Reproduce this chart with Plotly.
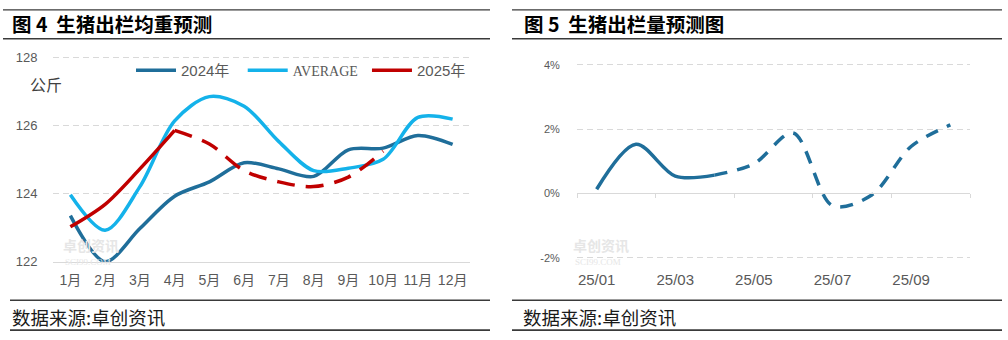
import plotly.graph_objects as go

# ---------------- data ----------------
months_left = ["1月", "2月", "3月", "4月", "5月", "6月", "7月", "8月", "9月", "10月", "11月", "12月"]
weight_2024 = [123.35, 122.0, 122.97, 123.92, 124.34, 124.9, 124.72, 124.5, 125.28, 125.33, 125.7, 125.44]
weight_avg = [123.96, 122.92, 124.2, 126.13, 126.84, 126.56, 125.52, 124.67, 124.74, 125.0, 126.23, 126.18]
weight_2025_actual = [123.02, 123.68, 124.72, 125.85]            # 1月-4月
weight_2025_forecast = [125.85, 125.45, 124.67, 124.34, 124.2, 124.48, 125.24]  # 4月-10月
left_yticks = [122, 124, 126, 128]

months_right = ["25/01", "25/02", "25/03", "25/04", "25/05", "25/06", "25/07", "25/08", "25/09", "25/10"]
volume_actual = [0.13, 1.53, 0.54, 0.57]                          # 25/01-25/04
volume_forecast = [0.57, 0.92, 1.88, -0.38, -0.05, 1.46, 2.13]    # 25/04-25/10
right_yticks = [-2, 0, 2, 4]
right_yticktext = ["-2%", "0%", "2%", "4%"]
right_xticks = ["25/01", "25/03", "25/05", "25/07", "25/09"]

# ---------------- style ----------------
W, H = 1008, 340
C_DARK = "#1F6E9A"
C_LIGHT = "#14B2EA"
C_RED = "#C00000"
C_GRID = "#D9D9D9"
C_TICK = "#595959"
SANS = "Liberation Sans, Noto Sans CJK SC, sans-serif"
CJK = "Noto Sans CJK SC, sans-serif"
NB = "\u00a0"

def px_x(p):
    return p / W

def px_y(p):
    return 1 - p / H

def y_domain(lo_tick, hi_tick, lo_px, hi_px, lo_pad, hi_pad):
    """domain so that lo_tick sits at lo_px and hi_tick at hi_px, with padded range"""
    unit = (lo_px - hi_px) / (hi_tick - lo_tick)
    bottom = lo_px + lo_pad * unit
    top = hi_px - hi_pad * unit
    return [px_y(bottom), px_y(top)], [lo_tick - lo_pad, hi_tick + hi_pad]

L_X = [px_x(53), px_x(470)]
L_Y, L_RANGE = y_domain(left_yticks[0], left_yticks[-1], 266, 54, 0.01, 0.06)
R_X = [px_x(577), px_x(970)]
R_Y, R_RANGE = y_domain(right_yticks[0], right_yticks[-1], 262, 62, 0.06, 0.06)

fig = go.Figure()

# left chart
fig.add_trace(go.Scatter(x=months_left, y=weight_2024, name="2024年" + NB * 2, mode="lines",
                         line=dict(color=C_DARK, width=3.5, shape="spline", smoothing=0.9),
                         xaxis="x", yaxis="y"))
fig.add_trace(go.Scatter(x=months_left, y=weight_avg,
                         name="<span style='font-family:Liberation Serif;font-size:14px'>AVERAGE</span>" + NB,
                         mode="lines",
                         line=dict(color=C_LIGHT, width=3.5, shape="spline", smoothing=0.9),
                         xaxis="x", yaxis="y"))
fig.add_trace(go.Scatter(x=months_left[:4], y=weight_2025_actual, name="2025年", mode="lines",
                         line=dict(color=C_RED, width=3.5, shape="spline", smoothing=0.9),
                         xaxis="x", yaxis="y"))
fig.add_trace(go.Scatter(x=months_left[3:10], y=weight_2025_forecast, name="2025年预测", mode="lines",
                         showlegend=False,
                         line=dict(color=C_RED, width=3.5, shape="spline", smoothing=0.9, dash="18px,11px"),
                         xaxis="x", yaxis="y"))

# right chart
fig.add_trace(go.Scatter(x=months_right[:4], y=volume_actual, mode="lines", showlegend=False,
                         line=dict(color=C_DARK, width=3.5, shape="spline", smoothing=0.9),
                         xaxis="x2", yaxis="y2"))
fig.add_trace(go.Scatter(x=months_right[3:], y=volume_forecast, mode="lines", showlegend=False,
                         line=dict(color=C_DARK, width=3.5, shape="spline", smoothing=0.9, dash="13px,10px"),
                         xaxis="x2", yaxis="y2"))
# helper trace for the tick axis drawn on the 0% line
fig.add_trace(go.Scatter(x=list(range(len(months_right))), y=[0] * len(months_right), mode="lines",
                         showlegend=False, hoverinfo="skip", line=dict(width=0, color="rgba(0,0,0,0)"),
                         xaxis="x3", yaxis="y2"))

zero_pos = R_Y[0] + (R_Y[1] - R_Y[0]) * (0 - R_RANGE[0]) / (R_RANGE[1] - R_RANGE[0])

fig.update_layout(
    width=W, height=H,
    margin=dict(l=0, r=0, t=0, b=0),
    paper_bgcolor="white", plot_bgcolor="white",
    font=dict(family=SANS, color=C_TICK),
    xaxis=dict(domain=L_X, anchor="y", type="category", range=[-0.5, 11.5],
               showline=True, linecolor=C_GRID, linewidth=1, showgrid=False,
               ticks="outside", ticklen=5, tickcolor="rgba(0,0,0,0)",
               tickfont=dict(size=14, color=C_TICK, family=SANS), fixedrange=True),
    yaxis=dict(domain=L_Y, anchor="x", range=L_RANGE, tickvals=left_yticks,
               showgrid=True, gridcolor=C_GRID, griddash="6px,4px", gridwidth=1,
               zeroline=False, showline=False,
               ticks="outside", ticklen=12, tickcolor="rgba(0,0,0,0)",
               tickfont=dict(size=13, color=C_TICK, family=SANS)),
    xaxis2=dict(domain=R_X, anchor="y2", type="category", range=[-0.5, 9.5],
                tickmode="array", tickvals=right_xticks, ticktext=right_xticks,
                showline=False, showgrid=False,
                ticks="outside", ticklen=6, tickcolor="rgba(0,0,0,0)",
                tickfont=dict(size=15, color=C_TICK, family=SANS)),
    xaxis3=dict(overlaying="x2", anchor="free", position=zero_pos, side="bottom",
                range=[-0.5, 9.5], tickmode="array",
                tickvals=[i - 0.5 for i in range(0, len(months_right) + 1, 2)],
                showticklabels=False, showgrid=False, zeroline=False,
                showline=True, linecolor=C_GRID, linewidth=1,
                ticks="outside", ticklen=4, tickcolor=C_GRID, tickwidth=1),
    yaxis2=dict(domain=R_Y, anchor="x2", range=R_RANGE, tickvals=right_yticks,
                ticktext=right_yticktext,
                showgrid=True, gridcolor=C_GRID, griddash="6px,4px", gridwidth=1,
                zeroline=True, zerolinecolor=C_GRID, zerolinewidth=1, showline=False,
                ticks="outside", ticklen=14, tickcolor="rgba(0,0,0,0)",
                tickfont=dict(size=11, color=C_TICK, family=SANS)),
    legend=dict(orientation="h", x=px_x(131), xanchor="left", y=px_y(68), yanchor="middle",
                bgcolor="rgba(0,0,0,0)", font=dict(size=15, color=C_TICK, family=SANS),
                itemwidth=40, tracegroupgap=0),
    showlegend=True,
)

# frame rules
rules = [
    (px_x(3), px_x(490), px_y(5), 1.2),
    (px_x(3), px_x(490), px_y(35), 1.6),
    (px_x(10), px_x(490), px_y(306), 1.6),
    (px_x(10), px_x(490), px_y(337), 1.6),
    (px_x(512), px_x(1002), px_y(5), 1.2),
    (px_x(512), px_x(1002), px_y(35), 1.6),
    (px_x(512), px_x(1002), px_y(306), 1.6),
    (px_x(512), px_x(1002), px_y(337), 1.6),
]
for x0, x1, y, w in rules:
    fig.add_shape(type="line", xref="paper", yref="paper", x0=x0, x1=x1, y0=y, y1=y,
                  line=dict(color="#3A3A3A", width=w))

def note(text, x, y, size, color="#000000", family=CJK, xanchor="left"):
    fig.add_annotation(text=text, xref="paper", yref="paper", x=px_x(x), y=px_y(y),
                       xanchor=xanchor, yanchor="middle", showarrow=False, borderpad=0,
                       font=dict(size=size, color=color, family=family))

note("<b>图 4  生猪出栏均重预测</b>", 11, 19, 19.5)
note("<b>图 5  生猪出栏量预测图</b>", 523, 19, 19.5)
note("公斤", 29, 82, 16, color="#404040")
note("数据来源:卓创资讯", 11, 323, 18.5, color="#1A1A1A")
note("数据来源:卓创资讯", 522, 323, 18.5, color="#1A1A1A")
# watermarks
note("<b>卓创资讯</b>", 62, 249, 14, color="#E6E6E6")
note("SCI99.COM", 64, 266, 9, color="#E6E6E6", family="Liberation Serif")
note("<b>卓创资讯</b>", 572, 249, 14, color="#E6E6E6")
note("SCI99.COM", 574, 266, 9, color="#E6E6E6", family="Liberation Serif")

fig.write_html("out.html")
